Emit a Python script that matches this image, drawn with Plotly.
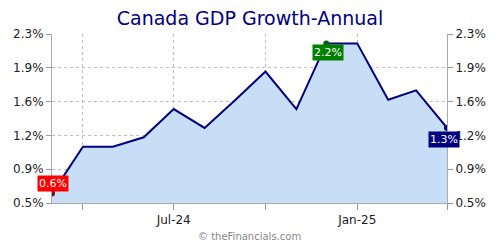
import plotly.graph_objects as go

dates = ["2024-03-01", "2024-04-01", "2024-05-01", "2024-06-01", "2024-07-01",
         "2024-08-01", "2024-09-01", "2024-10-01", "2024-11-01", "2024-12-01",
         "2025-01-01", "2025-02-01", "2025-03-01", "2025-04-01"]
values = [0.6, 1.1, 1.1, 1.2, 1.5, 1.3, 1.6, 1.9, 1.5, 2.2, 2.2, 1.6, 1.7, 1.3]

y_tickvals = [0.5, 0.86, 1.22, 1.58, 1.94, 2.3]
y_ticktext = ["0.5%", "0.9%", "1.2%", "1.6%", "1.9%", "2.3%"]
x_tickvals = ["2024-04-01", "2024-07-01", "2024-10-01", "2025-01-01", "2025-04-01"]
x_ticktext = ["", "Jul-24", "", "Jan-25", ""]

imax = values.index(max(values))
hi_idx = [0, imax, len(values) - 1]
hi_dot = ["#7a0a2a", "#0a5a1a", "#000080"]
hi_box = ["#ff0000", "#008000", "#000080"]
hi_shift = [(1, 10.5), (2, -9.5), (-3.5, -11.5)]

fig = go.Figure()
fig.add_trace(go.Scatter(
    x=dates, y=values, mode="lines",
    line=dict(color="#000080", width=2),
    fill="tozeroy", fillcolor="#c8ddf6",
    hoverinfo="skip", showlegend=False))
fig.add_trace(go.Scatter(
    x=[dates[i] for i in hi_idx], y=[values[i] for i in hi_idx], mode="markers",
    marker=dict(color=hi_dot, size=6),
    hoverinfo="skip", showlegend=False))
fig.add_trace(go.Scatter(
    x=dates, y=values, mode="lines", yaxis="y2",
    line=dict(color="rgba(0,0,0,0)"), hoverinfo="skip", showlegend=False))

for k, i in enumerate(hi_idx):
    fig.add_annotation(
        x=dates[i], y=values[i], text=f"{values[i]:.1f}%", showarrow=False,
        xshift=hi_shift[k][0], yshift=hi_shift[k][1],
        bgcolor=hi_box[k], font=dict(color="white", size=11, family="DejaVu Sans"),
        borderpad=1)

fig.add_annotation(
    x=0.5, y=-0.245, xref="paper", yref="paper", showarrow=False,
    text="© theFinancials.com", font=dict(color="#888888", size=10, family="DejaVu Sans"))

axis_common = dict(
    range=[0.5, 2.3], tickvals=y_tickvals, ticktext=y_ticktext,
    ticks="outside", ticklen=5, tickcolor="#999999",
    showline=True, linecolor="#aaaaaa", linewidth=1,
    tickfont=dict(size=12, color="#222222", family="DejaVu Sans"),
    zeroline=False, fixedrange=True)

fig.update_layout(
    width=500, height=250,
    margin=dict(l=52, r=53, t=34, b=47),
    paper_bgcolor="white", plot_bgcolor="white",
    title=dict(text="Canada GDP Growth-Annual", x=0.5, xanchor="center",
               y=0.928, yanchor="middle",
               font=dict(size=19, color="#000080", family="DejaVu Sans")),
    xaxis=dict(
        range=[dates[0], dates[-1]], tickvals=x_tickvals, ticktext=x_ticktext,
        ticks="outside", ticklen=6, tickcolor="#999999",
        showline=True, linecolor="#aaaaaa", linewidth=1,
        showgrid=True, gridcolor="#c0c0c0", griddash="dot", gridwidth=1,
        tickfont=dict(size=12, color="#222222", family="DejaVu Sans"),
        zeroline=False),
    yaxis=dict(**axis_common, side="left", showgrid=True,
               gridcolor="#c0c0c0", griddash="dot", gridwidth=1),
    yaxis2=dict(**axis_common, side="right", overlaying="y", showgrid=False),
)

fig.write_html("out.html")
